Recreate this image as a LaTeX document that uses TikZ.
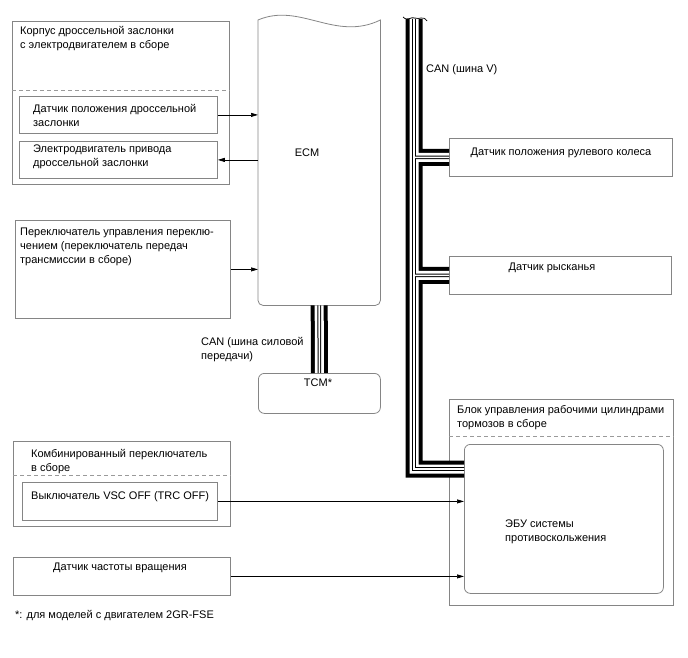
\documentclass[tikz,border=0pt]{standalone}
\usepackage{fontspec}
\setmainfont{Liberation Sans}
\usetikzlibrary{arrows.meta,positioning,calc}
\definecolor{frameGray}{HTML}{858585}
\definecolor{dashGray}{HTML}{9A9A9A}

\begin{document}
\begin{tikzpicture}[
        x=1pt, y=-1pt,
        font=\fontsize{11}{14}\selectfont,
        frame/.style={draw=frameGray, line width=0.8pt, anchor=north west, inner sep=0pt},
        ecubox/.style={frame, rounded corners=6pt},
        txt/.style={anchor=north west, align=left, inner sep=0pt},
        sig/.style={-{Triangle[length=7pt,width=4pt]}, draw=black, line width=0.7pt},
        sepline/.style={draw=dashGray, dash pattern=on 4pt off 3pt, line width=0.8pt}
    ]
        \useasboundingbox (0,0) rectangle (688,658);

        % throttle body
        \node[frame, minimum width=217, minimum height=163] (tbody) at (12,21) {};
        \node[txt] (tbodyTxt) at (20,26) {Корпус дроссельной заслонки\\с электродвигателем в сборе};
        \draw[sepline] ($(tbody.north west)+(0,69)$) -- ($(tbody.north east)+(0,69)$);
        \node[frame, minimum width=198, minimum height=37] (tpsensor) at (19,96) {};
        \node[txt] (tpsensorTxt) at (33,104) {Датчик положения дроссельной\\заслонки};
        \node[frame, minimum width=198, minimum height=37] (tpmotor) at (19,141) {};
        \node[txt] (tpmotorTxt) at (33,145) {Электродвигатель привода\\дроссельной заслонки};

        % ECM
        \node[minimum width=122, minimum height=285, anchor=north west, inner sep=0pt] (ecm) at (258,20) {};
        \draw[draw=frameGray, line width=0.8pt] (ecm.north west) .. controls (300,2) and (335,42) .. (ecm.north east)
            [rounded corners=5pt] -- (ecm.south east) -- (ecm.south west) [sharp corners] -- cycle;
        \node (ecmTxt) at (307,153) {ECM};

        % shift lever
        \node[frame, minimum width=215, minimum height=98] (shiftsw) at (15,220) {};
        \node[txt] (shiftswTxt) at (20,228) {Переключатель управления переклю-\\чением (переключатель передач\\трансмиссии в сборе)};

        % TCM
        \node[ecubox, minimum width=122, minimum height=40] (tcm) at (258,373) {};
        \node (tcmTxt) at (318,383) {TCM*};
        \node[txt] (canPtTxt) at (201,337) {CAN (шина силовой\\передачи)};

        % combination switch
        \node[frame, minimum width=217, minimum height=85] (combsw) at (13,441) {};
        \node[txt] (combswTxt) at (31,449) {Комбинированный переключатель\\в сборе};
        \draw[sepline] ($(combsw.north west)+(0,34)$) -- ($(combsw.north east)+(0,34)$);
        \node[frame, minimum width=195, minimum height=38] (vscsw) at (22,482) {};
        \node[txt] (vscswTxt) at (31,491) {Выключатель VSC OFF (TRC OFF)};

        % speed sensor
        \node[frame, minimum width=217, minimum height=38] (speedsn) at (13,557) {};
        \node (speedsnTxt) at (120,568) {Датчик частоты вращения};
        \node[txt] (noteTxt) at (15,610) {*: для моделей с двигателем 2GR-FSE};

        % V bus sensors
        \node[frame, minimum width=223, minimum height=38] (steer) at (449,138) {};
        \node (steerTxt) at (561,153) {Датчик положения рулевого колеса};
        \node[frame, minimum width=222, minimum height=38] (yaw) at (449,256) {};
        \node (yawTxt) at (552,268) {Датчик рысканья};
        \node[txt] (canVTxt) at (426,64) {CAN (шина V)};

        % brake actuator
        \node[frame, minimum width=224, minimum height=206] (absunit) at (449,399) {};
        \node[txt] (absunitTxt) at (457,405) {Блок управления рабочими цилиндрами\\тормозов в сборе};
        \draw[sepline] ($(absunit.north west)+(0,37)$) -- ($(absunit.north east)+(0,37)$);
        \node[ecubox, minimum width=199, minimum height=149] (absecu) at (464,444) {};
        \node[txt] (absecuTxt) at (505,520) {ЭБУ системы\\противоскольжения};

        % signal lines
        \draw[sig] (tpsensor.east) -- (tpsensor.east -| ecm.west);
        \draw[sig] (tpmotor.east -| ecm.west) -- (tpmotor.east);
        \draw[sig] (shiftsw.east) -- (shiftsw.east -| ecm.west);
        \draw[sig] (vscsw.east) -- (vscsw.east -| absecu.west);
        \draw[sig] (speedsn.east) -- (speedsn.east -| absecu.west);

        % CAN buses
        \coordinate (busTop) at (414,19);
        \coordinate (busCorner) at (414,469);
        \foreach \w/\c in {17/black,9/white,3.6/black,1.6/white}
            \draw[line width=\w pt, draw=\c] (busTop) -- (busCorner) -- (busCorner -| absecu.west)
                (steer.west -| busTop) -- (steer.west)
                (yaw.west -| busTop) -- (yaw.west)
                (ecm.south) -- (tcm.north);
        \draw[line width=0.7pt] (403,17) .. controls (408,22) and (411,16) .. (415,18) .. controls (419,20) and (423,15) .. (427,21);
    \end{tikzpicture}
\end{document}
